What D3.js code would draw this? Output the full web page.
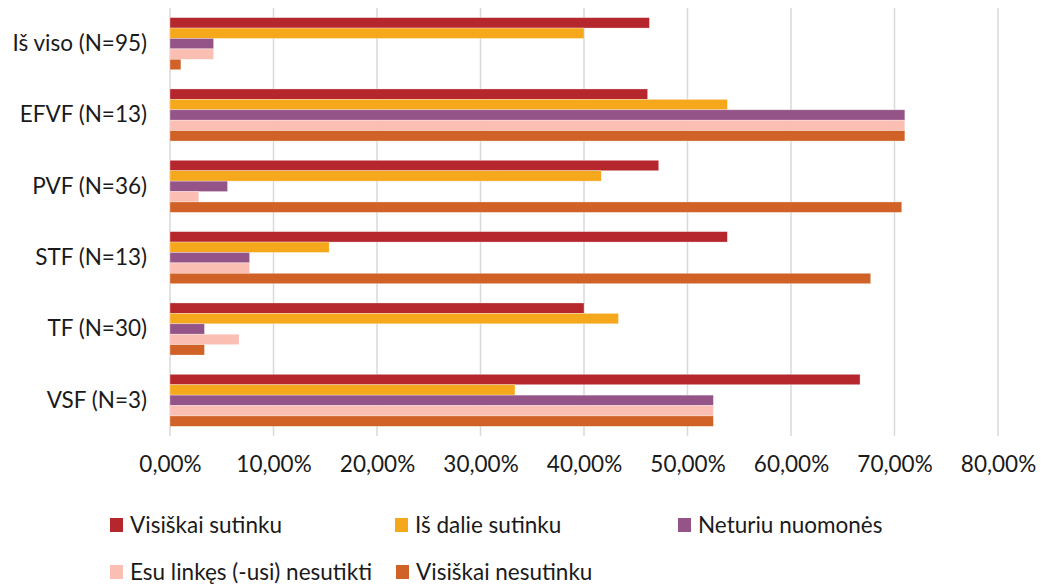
<!DOCTYPE html>
<html>
<head>
<meta charset="utf-8">
<script src="https://cdn.jsdelivr.net/npm/d3@7"></script>
<style>
  body { margin: 0; background: #fff; }
  text { font-family: Lato, "Open Sans", sans-serif; fill: #1a1a1a; }
</style>
</head>
<body>
<script>
  // categories top to bottom
  var categories = ["Iš viso (N=95)", "EFVF (N=13)", "PVF (N=36)", "STF (N=13)", "TF (N=30)", "VSF (N=3)"];
  var seriesNames = ["Visiškai sutinku", "Iš dalie sutinku", "Neturiu nuomonės", "Esu linkęs (-usi) nesutikti", "Visiškai nesutinku"];
  var seriesColors = ["#b5272d", "#f6a81d", "#955488", "#fbbeb3", "#d06127"];

  // values in percent, one array per series, same order as categories
  var visiskaiSutinku = [46.32, 46.15, 47.22, 53.85, 40.00, 66.67];
  var isDalieSutinku = [40.00, 53.85, 41.67, 15.38, 43.33, 33.33];
  var neturiuNuomones = [4.21, 71.00, 5.56, 7.69, 3.33, 52.50];
  var esuLinkes = [4.21, 71.00, 2.78, 7.69, 6.67, 52.50];
  var visiskaiNesutinku = [1.05, 71.00, 70.70, 67.70, 3.33, 52.50];
  var seriesValues = [visiskaiSutinku, isDalieSutinku, neturiuNuomones, esuLinkes, visiskaiNesutinku];

  var xTicks = [0, 10, 20, 30, 40, 50, 60, 70, 80];

  var W = 1044, H = 585;
  var margin = { top: 8, left: 170, right: 46, bottom: 149 };
  var width = W - margin.left - margin.right,
    height = H - margin.top - margin.bottom;
  var fontSize = "22.5px";

  var svg = d3.select("body").append("svg")
    .attr("width", W).attr("height", H);

  var g = svg.append("g")
    .attr("transform", "translate(" + margin.left + "," + margin.top + ")");

  var x = d3.scaleLinear().domain([0, 80]).range([0, width]);
  var y = d3.scaleBand().domain(categories).range([0, height]).paddingInner(0.27).paddingOuter(0.135);
  var ySub = d3.scaleBand().domain(d3.range(seriesNames.length)).range([0, y.bandwidth()]);

  // gridlines
  g.append("g").selectAll("line")
    .data(xTicks)
    .enter().append("line")
    .attr("x1", function (d) { return x(d); })
    .attr("x2", function (d) { return x(d); })
    .attr("y1", 0).attr("y2", height)
    .attr("stroke", "#d9d9d9")
    .attr("stroke-width", 1.5);

  // bars
  var rows = [];
  seriesValues.forEach(function (vals, si) {
    vals.forEach(function (v, ci) {
      rows.push({ s: si, c: categories[ci], v: v });
    });
  });

  g.append("g").selectAll("rect")
    .data(rows)
    .enter().append("rect")
    .attr("x", x(0))
    .attr("y", function (d) { return y(d.c) + ySub(d.s); })
    .attr("width", function (d) { return x(d.v) - x(0); })
    .attr("height", ySub.bandwidth())
    .attr("fill", function (d) { return seriesColors[d.s]; })
    .attr("stroke", "#fff")
    .attr("stroke-opacity", 0.5)
    .attr("stroke-width", 0.6);

  // y axis
  var yAxis = d3.axisLeft(y).tickSize(0).tickPadding(23);
  g.append("g").call(yAxis)
    .call(function (a) { a.select(".domain").remove(); })
    .selectAll("text")
    .style("font-size", fontSize)
    .style("font-family", "Lato, 'Open Sans', sans-serif")
    .attr("fill", "#1a1a1a");

  // x axis
  var xAxis = d3.axisBottom(x).tickValues(xTicks).tickSize(0).tickPadding(20)
    .tickFormat(function (d) { return d.toFixed(2).replace(".", ",") + "%"; });
  g.append("g").attr("transform", "translate(0," + height + ")").call(xAxis)
    .call(function (a) { a.select(".domain").remove(); })
    .selectAll("text")
    .style("font-size", fontSize)
    .style("font-family", "Lato, 'Open Sans', sans-serif")
    .attr("fill", "#1a1a1a");

  // legend
  var legendPos = [[110, 525], [395, 525], [678, 525], [110, 572], [396, 572]];
  var legend = svg.append("g").selectAll("g")
    .data(seriesNames)
    .enter().append("g")
    .attr("transform", function (d, i) { return "translate(" + legendPos[i] + ")"; });

  legend.append("rect")
    .attr("x", 0).attr("y", -7)
    .attr("width", 13).attr("height", 14)
    .attr("fill", function (d, i) { return seriesColors[i]; });

  legend.append("text")
    .attr("x", 20).attr("dy", "0.35em")
    .style("font-size", fontSize)
    .text(function (d) { return d; });
</script>
</body>
</html>
